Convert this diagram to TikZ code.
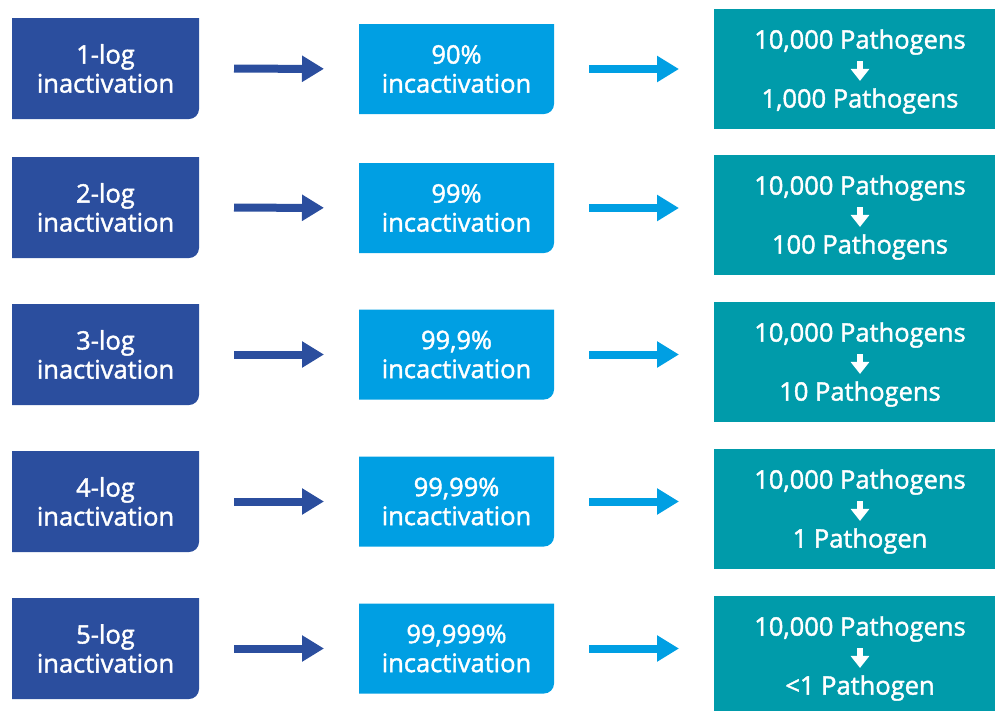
\documentclass[tikz,border=0pt]{standalone}
\usepackage{fontspec}
\setmainfont{Open Sans}
\newfontfamily\boxfont{Open Sans}[FakeBold=1.6]
\usetikzlibrary{arrows.meta,backgrounds,calc}
\definecolor{logblue}{RGB}{43,78,158}
\definecolor{pctblue}{RGB}{0,159,227}
\definecolor{pathteal}{RGB}{0,155,170}
\tikzset{
  txt/.style={text=white, align=center, font=\boxfont\fontsize{25.5}{29}\selectfont},
  logbox/.style={txt, outer sep=0pt, minimum width=187pt, minimum height=101pt},
  pctbox/.style={txt, outer sep=0pt, minimum width=195pt, minimum height=90pt},
  pathbox/.style={fill=pathteal, outer sep=0pt, minimum width=292pt, minimum height=120pt},
  pathtxt/.style={txt, inner sep=0pt},
  flowarrow/.style={line width=8pt, -{Triangle[length=22pt,width=25pt]}, shorten <=35pt, shorten >=35pt},
  downarrow/.style={white, line width=6.5pt, -{Triangle[length=12pt,width=18pt]}}
}

\begin{document}
\begin{tikzpicture}[x=1pt,y=-1pt]
    \clip (0,0) rectangle (995,710);
    % left column
    \node (l1)[logbox] at (105.5,68.5) {1-log\\inactivation};
    \node (l2)[logbox] at (105.5,207.5) {2-log\\inactivation};
    \node (l3)[logbox] at (105.5,354.5) {3-log\\inactivation};
    \node (l4)[logbox] at (105.5,501.5) {4-log\\inactivation};
    \node (l5)[logbox] at (105.5,648.5) {5-log\\inactivation};
    % middle column
    \node (m1)[pctbox] at (456.5,69) {90\%\\incactivation};
    \node (m2)[pctbox] at (456.5,208) {99\%\\incactivation};
    \node (m3)[pctbox] at (456.5,354.5) {99,9\%\\incactivation};
    \node (m4)[pctbox] at (456.5,501.5) {99,99\%\\incactivation};
    \node (m5)[pctbox] at (456.5,648.5) {99,999\%\\incactivation};
    % right column
    \node (r1)[pathbox] at (860,69) {};
    \node (r2)[pathbox] at (860,215) {};
    \node (r3)[pathbox] at (860,362) {};
    \node (r4)[pathbox] at (860,509) {};
    \node (r5)[pathbox] at (860,656) {};
    \node (t1)[pathtxt] at ($(r1)+(0,-27)$) {10,000 Pathogens};
    \node (b1)[pathtxt] at ($(r1)+(0,32)$) {1,000 Pathogens};
    \node (t2)[pathtxt] at ($(r2)+(0,-27)$) {10,000 Pathogens};
    \node (b2)[pathtxt] at ($(r2)+(0,32)$) {100 Pathogens};
    \node (t3)[pathtxt] at ($(r3)+(0,-27)$) {10,000 Pathogens};
    \node (b3)[pathtxt] at ($(r3)+(0,32)$) {10 Pathogens};
    \node (t4)[pathtxt] at ($(r4)+(0,-27)$) {10,000 Pathogens};
    \node (b4)[pathtxt] at ($(r4)+(0,32)$) {1 Pathogen};
    \node (t5)[pathtxt] at ($(r5)+(0,-27)$) {10,000 Pathogens};
    \node (b5)[pathtxt] at ($(r5)+(0,32)$) {<1 Pathogen};

    % box fills, bottom right corner rounded
    \begin{scope}[on background layer]
    \foreach \n/\c in {l1/logblue,l2/logblue,l3/logblue,l4/logblue,l5/logblue,
                       m1/pctblue,m2/pctblue,m3/pctblue,m4/pctblue,m5/pctblue}
        \fill[\c] (\n.north west) -- (\n.north east) -- ([yshift=10pt]\n.south east)
            arc[start angle=0, end angle=-90, radius=10pt] -- (\n.south west) -- cycle;
    \end{scope}

    \foreach \i in {1,...,5}{
        \draw [flowarrow, logblue](l\i)--(m\i);
        \draw [flowarrow, pctblue](m\i)--(m\i -| r\i.west);
        \draw [downarrow]($(t\i)!0.33!(b\i)$)--($(t\i)!0.66!(b\i)$);
    }
\end{tikzpicture}
\end{document}
